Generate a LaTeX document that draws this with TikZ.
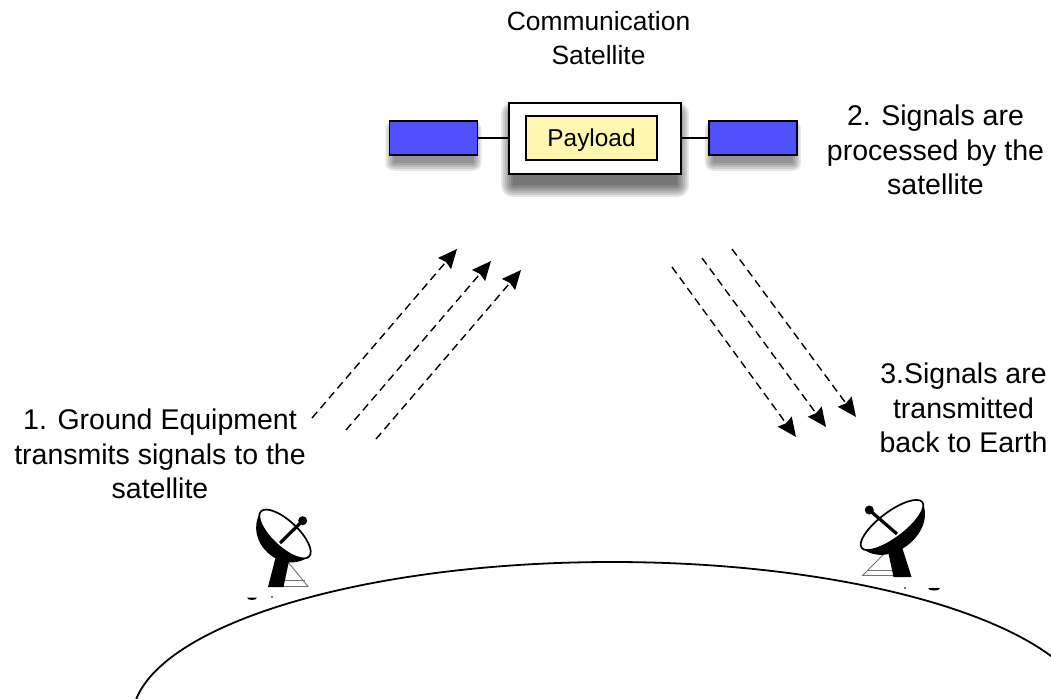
\documentclass[tikz,border=0pt]{standalone}
\usepackage{fontspec}
\setmainfont{Liberation Sans}
\usetikzlibrary{arrows.meta}
\definecolor{panelblue}{RGB}{80,80,255}
\definecolor{payloadyellow}{RGB}{255,246,176}
\newcommand{\softshadow}[6]{% centre x, centre y, width, height, blur, offset
  \foreach \r in {0,2,...,#5}{
    \fill[black,opacity=0.1,rounded corners=\r pt]
      ({#1-#3/2+4-\r},{#2-#4/2+#6-\r}) rectangle ({#1+#3/2-4+\r},{#2+#4/2+#6+\r});
  }}
\newcommand{\dish}[4]{% centre x, centre y, rotation, half length
  \begin{scope}[shift={(#1,#2)},rotate=#3]
    \fill[black] (-#4,0) .. controls ({-#4*0.8},34) and ({#4*0.8},34) .. (#4,0) -- cycle;
    \draw[line width=1.7pt,fill=white] (0,0) ellipse [x radius=#4,y radius=13];
  \end{scope}}
\tikzset{
  x=1pt,y=-1pt,
  label text/.style={align=center,font=\fontsize{28.5}{34.5}\selectfont,inner sep=0pt},
  title text/.style={align=center,font=\fontsize{26.4}{34.5}\selectfont,inner sep=0pt},
  blue panel/.style={draw=black,line width=1.5pt,fill=panelblue,minimum width=88pt,minimum height=33.5pt,inner sep=0pt},
  bus box/.style={draw=black,line width=1.5pt,fill=white,minimum width=172pt,minimum height=71pt,inner sep=0pt},
  payload box/.style={draw=black,line width=1.5pt,fill=payloadyellow,minimum width=131pt,minimum height=44pt,inner sep=0pt,font=\fontsize{24.4}{28}\selectfont},
  boom/.style={draw=black,line width=1.3pt},
  signal/.style={draw=black,line width=1.4pt,dash pattern=on 8pt off 5pt,-{Stealth[length=19pt,width=17pt,inset=2pt]}},
  mast line/.style={draw=black!55,line width=0.9pt},
}
\begin{document}
\begin{tikzpicture}
\useasboundingbox (0,0) rectangle (1051,698);
\fill[white] (0,0) rectangle (1051,698);
% shadows
\softshadow{433.5}{138}{88}{33.5}{8}{8}
\softshadow{753}{138}{88}{33.5}{8}{8}
\softshadow{595}{138.5}{172}{71}{12}{11}
% satellite
\node[blue panel] (panelL) at (433.5,138) {};
\node[blue panel] (panelR) at (753,138) {};
\node[bus box] (bus) at (595,138.5) {};
\node[payload box] (payload) at (591.5,138) {\raisebox{-9pt}[0pt][0pt]{Payload}};
\draw[boom] (panelL.east) -- (panelL.east -| bus.west);
\draw[boom] (panelR.west) -- (panelR.west -| bus.east);
% labels
\node[title text] (satlabel) at (598.5,38) {Communication\\Satellite};
\node[label text] (step2) at (935.5,150) {2. Signals are\\processed by the\\satellite};
\node[label text] (step3) at (963.5,408) {3.Signals are\\transmitted\\back to Earth};
\node[label text] (step1) at (160,454) {1. Ground Equipment\\transmits signals to the\\satellite};
% signals
\coordinate (u1a) at (312,418); \coordinate (u1b) at (457,249);
\coordinate (u2a) at (346,430); \coordinate (u2b) at (491,261);
\coordinate (u3a) at (376,439); \coordinate (u3b) at (521,270);
\coordinate (d1a) at (672,267); \coordinate (d1b) at (796,437);
\coordinate (d2a) at (702,258); \coordinate (d2b) at (826,427);
\coordinate (d3a) at (732,249); \coordinate (d3b) at (856,417);
\draw[signal] (u1a) -- (u1b);
\draw[signal] (u2a) -- (u2b);
\draw[signal] (u3a) -- (u3b);
\draw[signal] (d1a) -- (d1b);
\draw[signal] (d2a) -- (d2b);
\draw[signal] (d3a) -- (d3b);
% left dish
\draw[mast line] (288,562) -- (308,586.5) -- (268,586.5);
\draw[mast line] (283,580) -- (305,580);
\fill[black] (277,552) -- (289,561) -- (283.5,587) -- (268,587) -- cycle;
\dish{285}{534}{-43}{33}
\draw[black,line width=3.2pt] (280,543) -- (302.7,520.7);
\fill[black] (302.7,520.7) circle (4.5);
\fill[black] (247,597.5) arc (180:0:5 and 2.5) -- cycle;
\fill[black] (272,597) circle (0.8);
% right dish
\draw[mast line] (885,553) -- (862.5,575.5) -- (895,575.5);
\draw[mast line] (868,570) -- (895,570);
\fill[black] (888,551) -- (901,544) -- (911.5,577) -- (893.5,577) -- cycle;
\dish{892}{525}{37}{38}
\draw[black,line width=3.2pt] (869.3,510) -- (897,534);
\fill[black] (869.3,510) circle (4.5);
\fill[black] (928,588) arc (180:0:6 and 2.5) -- cycle;
\fill[black] (905,588) circle (0.8);
% Earth
\begin{scope}
\clip (0,0) rectangle (1051,698);
\draw[black,line width=1.8pt,fill=white] (612,720) ellipse [x radius=480,y radius=158];
\end{scope}
\end{tikzpicture}
\end{document}
